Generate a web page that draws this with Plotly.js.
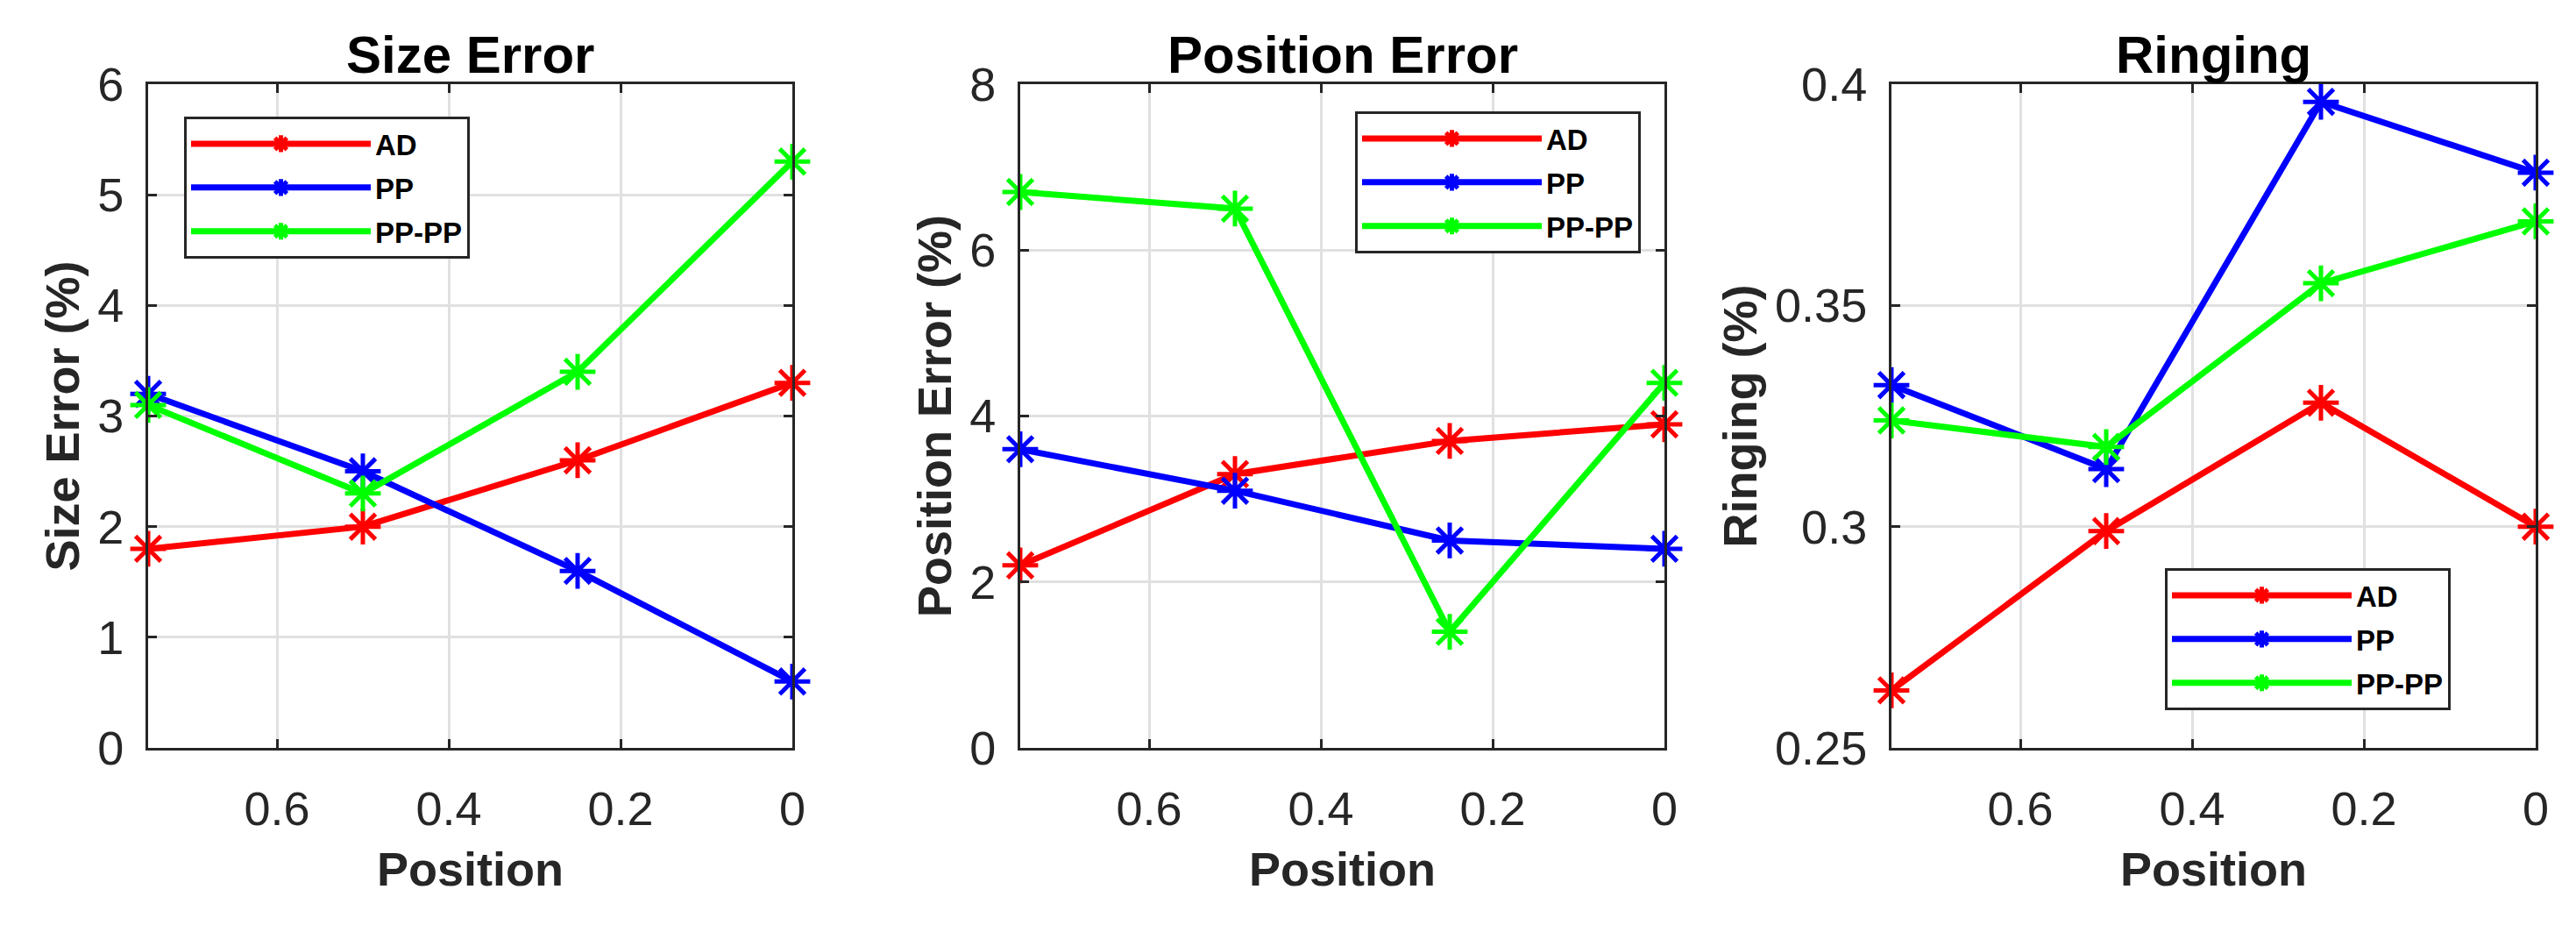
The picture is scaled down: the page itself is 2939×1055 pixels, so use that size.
<!DOCTYPE html>
<html>
<head>
<meta charset="utf-8">
<script src="https://cdn.plot.ly/plotly-3.0.1.min.js"></script>
<style>html,body{margin:0;padding:0;background:#fff;}#chart{width:2939px;height:1055px;}</style>
</head>
<body>
<div id="chart"></div>
<script>
// ---- data ----
const positions = [0.75, 0.5, 0.25, 0];
const seriesNames = ["AD", "PP", "PP-PP"];
const panelTitles = ["Size Error", "Position Error", "Ringing"];
const yTitles = ["Size Error (%)", "Position Error (%)", "Ringing (%)"];
const xTitle = "Position";
const xTickVals = [0, 0.2, 0.4, 0.6];

const sizeAD = [1.8, 2.0, 2.6, 3.3];
const sizePP = [3.2, 2.5, 1.6, 0.6];
const sizePPPP = [3.1, 2.3, 3.4, 5.3];

const posAD = [2.2, 3.3, 3.7, 3.9];
const posPP = [3.6, 3.1, 2.5, 2.4];
const posPPPP = [6.7, 6.5, 1.4, 4.4];

const ringAD = [0.263, 0.299, 0.328, 0.300];
const ringPP = [0.332, 0.313, 0.396, 0.380];
const ringPPPP = [0.324, 0.318, 0.355, 0.369];

const yRanges = [[0, 6], [0, 8], [0.25, 0.4]];
const yDticks = [1, 2, 0.05];

// ---- styling ----
const colors = ["#ff0000", "#0000ff", "#00ff00"];
const FONT = "Liberation Sans, Arial, Helvetica, sans-serif";
const AXC = "#262626";
const W = 2939, H = 1055;
const xDomains = [[169 / W, 904 / W], [1164 / W, 1899 / W], [2158 / W, 2893 / W]];
const yDomain = [1 - 853 / H, 1 - 96 / H];
const legendPos = [
  { x: 210 / W, y: 1 - 133 / H },
  { x: 1546 / W, y: 1 - 127 / H },
  { x: 2470 / W, y: 1 - 648 / H }
];

const panels = [
  [sizeAD, sizePP, sizePPPP],
  [posAD, posPP, posPPPP],
  [ringAD, ringPP, ringPPPP]
];

const traces = [];
panels.forEach((series, p) => {
  series.forEach((vals, s) => {
    traces.push({
      type: "scatter",
      mode: "lines+markers",
      x: positions,
      y: vals,
      name: seriesNames[s],
      legendgroup: "p" + p + "s" + s,
      xaxis: p === 0 ? "x" : "x" + (p + 1),
      yaxis: p === 0 ? "y" : "y" + (p + 1),
      legend: p === 0 ? "legend" : "legend" + (p + 1),
      cliponaxis: false,
      line: { color: colors[s], width: 7 },
      marker: { symbol: "asterisk-open", size: 34, color: colors[s], line: { color: colors[s], width: 5 } }
    });
  });
});

const layout = {
  width: W, height: H, autosize: false,
  margin: { l: 0, r: 0, t: 0, b: 0, pad: 0 },
  paper_bgcolor: "#ffffff", plot_bgcolor: "#ffffff",
  font: { family: FONT, color: AXC },
  annotations: [],
  showlegend: true
};

for (let p = 0; p < 3; p++) {
  const xk = p === 0 ? "xaxis" : "xaxis" + (p + 1);
  const yk = p === 0 ? "yaxis" : "yaxis" + (p + 1);
  const ya = p === 0 ? "y" : "y" + (p + 1);
  const xa = p === 0 ? "x" : "x" + (p + 1);
  layout[xk] = {
    domain: xDomains[p], anchor: ya,
    range: [0.75, 0], tickvals: xTickVals,
    ticks: "inside", ticklen: 10, tickwidth: 3, tickcolor: AXC,
    showline: true, linewidth: 3, linecolor: AXC, mirror: "ticks",
    showgrid: true, gridcolor: "#e0e0e0", gridwidth: 3, zeroline: false,
    tickfont: { family: FONT, size: 54, color: AXC },
    ticklabelstandoff: 20,
    title: { text: xTitle, font: { family: FONT, size: 54, color: AXC, weight: "bold" }, standoff: 22 },
    automargin: false, fixedrange: true
  };
  layout[yk] = {
    domain: yDomain, anchor: xa,
    range: yRanges[p], dtick: yDticks[p], tick0: yRanges[p][0],
    ticks: "inside", ticklen: 10, tickwidth: 3, tickcolor: AXC,
    showline: true, linewidth: 3, linecolor: AXC, mirror: "ticks",
    showgrid: true, gridcolor: "#e0e0e0", gridwidth: 3, zeroline: false,
    tickfont: { family: FONT, size: 54, color: AXC },
    ticklabelstandoff: 14,
    title: { text: yTitles[p], font: { family: FONT, size: 54, color: AXC, weight: "bold" }, standoff: 4 },
    automargin: false, fixedrange: true
  };
  const lk = p === 0 ? "legend" : "legend" + (p + 1);
  layout[lk] = {
    x: legendPos[p].x, y: legendPos[p].y, xanchor: "left", yanchor: "top",
    xref: "paper", yref: "paper",
    bgcolor: "#ffffff", bordercolor: AXC, borderwidth: 3,
    font: { family: FONT, size: 33, color: "#000000", weight: "bold" },
    itemwidth: 205, tracegroupgap: 4
  };
  layout.annotations.push({
    text: "<b>" + panelTitles[p] + "</b>",
    xref: "paper", yref: "paper",
    x: (xDomains[p][0] + xDomains[p][1]) / 2, y: 1 - 62 / H,
    xanchor: "center", yanchor: "middle", showarrow: false,
    font: { family: FONT, size: 60, color: "#000000" }
  });
}

Plotly.newPlot("chart", traces, layout, { staticPlot: true, displayModeBar: false });
</script>
</body>
</html>
